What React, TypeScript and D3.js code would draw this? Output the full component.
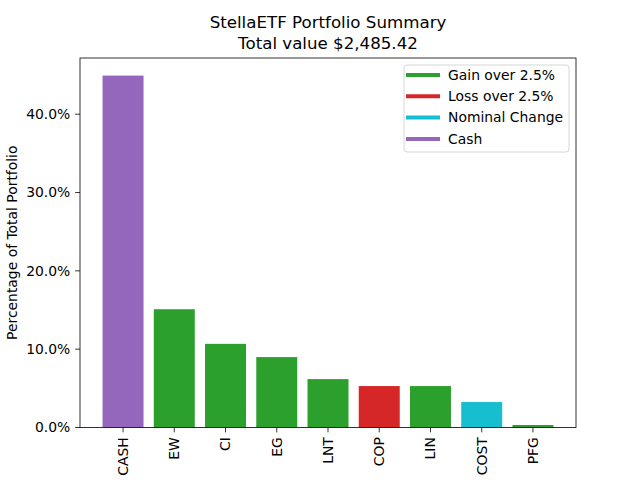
import React, { useEffect } from 'react';
import * as d3 from 'd3';

const tickers = ['CASH', 'EW', 'CI', 'EG', 'LNT', 'COP', 'LIN', 'COST', 'PFG'];
const shares = [44.93, 15.1, 10.68, 8.99, 6.18, 5.29, 5.29, 3.25, 0.32];
const kinds = ['cash', 'gain', 'gain', 'gain', 'gain', 'loss', 'gain', 'nominal', 'gain'];

const legendKinds = ['gain', 'loss', 'nominal', 'cash'];
const legendLabels = ['Gain over 2.5%', 'Loss over 2.5%', 'Nominal Change', 'Cash'];
const yTicks = [0, 10, 20, 30, 40];

const colorOf: Record<string, string> = {
  gain: '#2ca02c',
  loss: '#d62728',
  nominal: '#17becf',
  cash: '#9467bd',
};

const W = 640;
const H = 480;
const margin = { top: 58, right: 64, bottom: 52.5, left: 80 };
const font = 'DejaVu Sans, sans-serif';

const App: React.FC = () => {
  useEffect(() => {
    document.body.style.margin = '0';
  }, []);

  const innerW = W - margin.left - margin.right;
  const innerH = H - margin.top - margin.bottom;

  const x = d3.scaleLinear().domain([-0.84, tickers.length - 1 + 0.84]).range([0, innerW]);
  const y = d3.scaleLinear().domain([0, (d3.max(shares) || 0) * 1.05]).range([innerH, 0]);
  const barW = x(0.8) - x(0);

  return (
    <svg width={W} height={H} style={{ display: 'block', background: '#fff' }} fontFamily={font}>
      <text x={margin.left + innerW / 2} y={28} textAnchor="middle" fontSize={16.67}>
        StellaETF Portfolio Summary
      </text>
      <text x={margin.left + innerW / 2} y={49} textAnchor="middle" fontSize={16.67}>
        Total value $2,485.42
      </text>
      <g transform={`translate(${margin.left},${margin.top})`}>
        {shares.map((v, i) => (
          <rect
            key={tickers[i]}
            x={x(i) - barW / 2}
            y={y(v)}
            width={barW}
            height={innerH - y(v)}
            fill={colorOf[kinds[i]]}
          />
        ))}
        {/* y axis */}
        {yTicks.map((t) => (
          <g key={t} transform={`translate(0,${y(t)})`}>
            <line x1={-4.86} x2={0} stroke="#000" strokeWidth={0.8} />
            <text x={-9.7} dy="0.35em" textAnchor="end" fontSize={13.9}>
              {t.toFixed(1)}%
            </text>
          </g>
        ))}
        {/* x axis */}
        {tickers.map((t, i) => (
          <g key={t} transform={`translate(${x(i)},${innerH})`}>
            <line y1={0} y2={4.86} stroke="#000" strokeWidth={0.8} />
            <text transform="translate(0,9.7) rotate(-90)" dy="0.35em" textAnchor="end" fontSize={13.9}>
              {t}
            </text>
          </g>
        ))}
        <rect width={innerW} height={innerH} fill="none" stroke="#000" strokeWidth={0.8} />
        {/* legend */}
        <g transform={`translate(${innerW - 172},7)`}>
          <rect width={165} height={87} rx={3} fill="#fff" fillOpacity={0.8} stroke="#ccc" strokeWidth={0.8} />
          {legendKinds.map((k, i) => (
            <g key={k} transform={`translate(0,${10 + i * 21.3})`}>
              <line x1={2} x2={36} stroke={colorOf[k]} strokeWidth={4} />
              <text x={44} dy="0.35em" fontSize={13.9}>
                {legendLabels[i]}
              </text>
            </g>
          ))}
        </g>
      </g>
      <text
        transform={`translate(17,${margin.top + innerH / 2}) rotate(-90)`}
        textAnchor="middle"
        fontSize={13.9}
      >
        Percentage of Total Portfolio
      </text>
    </svg>
  );
};

export default App;
